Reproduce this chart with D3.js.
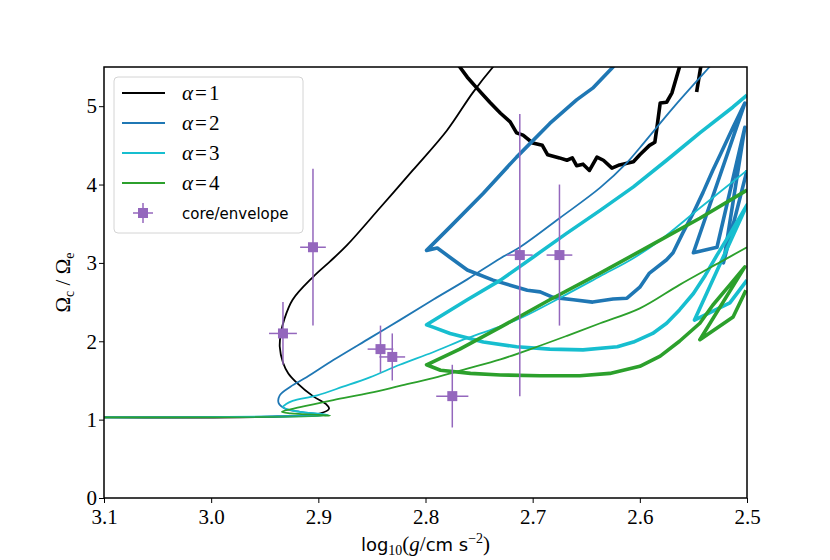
<!DOCTYPE html>
<html>
<head>
<meta charset="utf-8">
<script src="https://cdn.jsdelivr.net/npm/d3@7/dist/d3.min.js"></script>
<style>
  body { margin: 0; background: #fff; }
  svg { display: block; }
</style>
</head>
<body>
<div id="chart"></div>
<script>
// tracks: [log g, Omega_c/Omega_e]
const alpha1Thin = [[3.10,1.03],[2.938,1.04],[2.898,1.08],[2.890,1.14],[2.893,1.20],[2.905,1.30],[2.920,1.47],[2.928,1.59],[2.933,1.73],[2.936,1.93],[2.935,2.10],[2.932,2.27],[2.924,2.53],[2.905,2.82],[2.889,3.02],[2.873,3.23],[2.842,3.71],[2.812,4.18],[2.780,4.69],[2.756,5.17],[2.737,5.50],[2.727,5.65]];
const alpha1Thick = [[2.775,5.62],[2.768,5.50],[2.761,5.37],[2.752,5.23],[2.740,5.05],[2.730,4.91],[2.721,4.80],[2.715,4.66],[2.709,4.63],[2.700,4.53],[2.691,4.50],[2.686,4.38],[2.675,4.34],[2.668,4.31],[2.663,4.34],[2.659,4.24],[2.653,4.26],[2.647,4.18],[2.640,4.35],[2.634,4.31],[2.626,4.21],[2.619,4.25],[2.606,4.29],[2.600,4.38],[2.591,4.50],[2.586,4.54],[2.584,4.73],[2.581,5.04],[2.575,5.05],[2.570,5.17],[2.563,5.50],[2.560,5.62]];
const alpha1ThickEnd = [[2.542,5.60],[2.547,5.18]];

const alpha2Thin = [[3.10,1.03],[2.938,1.04],[2.894,1.06],[2.917,1.10],[2.931,1.14],[2.937,1.21],[2.936,1.31],[2.926,1.42],[2.911,1.54],[2.886,1.76],[2.852,2.04],[2.824,2.27],[2.793,2.53],[2.761,2.79],[2.730,3.06],[2.712,3.20],[2.675,3.57],[2.637,3.96],[2.612,4.28],[2.600,4.47],[2.567,5.01],[2.535,5.50],[2.525,5.65]];
const alpha2Thick = [[2.618,5.62],[2.625,5.50],[2.644,5.23],[2.659,5.08],[2.684,4.78],[2.715,4.35],[2.746,3.89],[2.777,3.46],[2.799,3.16],[2.789,3.19],[2.777,3.07],[2.761,2.91],[2.737,2.78],[2.705,2.65],[2.693,2.63],[2.681,2.56],[2.662,2.53],[2.644,2.50],[2.625,2.54],[2.612,2.55],[2.600,2.69],[2.591,2.87],[2.575,3.04],[2.569,3.13],[2.560,3.38],[2.550,3.64],[2.541,3.90],[2.532,4.18],[2.525,4.38],[2.513,4.73],[2.502,5.04],[2.550,3.13],[2.528,3.20],[2.502,4.73],[2.522,3.00],[2.500,4.18]];

const alpha3Thin = [[3.10,1.03],[2.938,1.04],[2.891,1.06],[2.922,1.11],[2.933,1.16],[2.930,1.20],[2.924,1.24],[2.901,1.31],[2.877,1.42],[2.852,1.54],[2.824,1.70],[2.793,1.86],[2.761,2.04],[2.730,2.19],[2.709,2.31],[2.675,2.55],[2.637,2.83],[2.606,3.06],[2.581,3.29],[2.544,3.70],[2.500,4.18]];
const alpha3Thick = [[2.500,5.14],[2.513,4.99],[2.544,4.66],[2.575,4.31],[2.606,3.97],[2.637,3.67],[2.668,3.38],[2.700,3.07],[2.730,2.78],[2.761,2.53],[2.799,2.21],[2.793,2.18],[2.777,2.10],[2.746,1.99],[2.715,1.93],[2.684,1.90],[2.653,1.89],[2.621,1.93],[2.606,1.99],[2.588,2.10],[2.575,2.23],[2.563,2.40],[2.550,2.61],[2.539,2.84],[2.528,3.10],[2.515,3.39],[2.500,3.74],[2.549,2.27],[2.516,2.49],[2.500,2.78]];

const alpha4Thin = [[3.10,1.03],[2.889,1.05],[2.926,1.08],[2.934,1.10],[2.917,1.16],[2.886,1.25],[2.852,1.34],[2.824,1.43],[2.793,1.53],[2.761,1.65],[2.730,1.77],[2.700,1.91],[2.668,2.07],[2.637,2.23],[2.600,2.42],[2.563,2.72],[2.525,3.01],[2.500,3.20]];
const alpha4Thick = [[2.500,3.93],[2.544,3.57],[2.581,3.29],[2.637,2.87],[2.684,2.53],[2.730,2.18],[2.768,1.90],[2.799,1.70],[2.786,1.63],[2.758,1.59],[2.730,1.57],[2.693,1.56],[2.656,1.56],[2.628,1.59],[2.600,1.68],[2.581,1.81],[2.563,2.00],[2.544,2.23],[2.532,2.46],[2.516,2.72],[2.502,2.95],[2.544,2.02],[2.513,2.31],[2.501,2.65]];

// core/envelope measurements
const obsLogg = [2.933, 2.905, 2.842, 2.831, 2.775, 2.712, 2.675];
const obsRatio = [2.10, 3.20, 1.90, 1.80, 1.30, 3.10, 3.10];
const obsLoggErr = [0.013, 0.012, 0.012, 0.012, 0.015, 0.012, 0.012];
const obsRatioErr = [0.40, 1.00, 0.30, 0.30, 0.40, 1.80, 0.90];

const xTicks = [3.1, 3.0, 2.9, 2.8, 2.7, 2.6, 2.5];
const yTicks = [0, 1, 2, 3, 4, 5];
const alphaLabels = ['1', '2', '3', '4'];

const colors = ['#000000', '#1f77b4', '#17becf', '#2ca02c'];
const obsColor = '#9467bd';

const width = 830, height = 560;
const margin = { left: 104, right: 83, top: 67, bottom: 62 };

const svg = d3.select('#chart').append('svg')
  .attr('width', width)
  .attr('height', height);

const x = d3.scaleLinear().domain([3.1, 2.5]).range([margin.left, width - margin.right]);
const y = d3.scaleLinear().domain([0, 5.5]).range([height - margin.bottom, margin.top]);

svg.append('clipPath').attr('id', 'plot-clip')
  .append('rect')
  .attr('x', x(3.1)).attr('y', y(5.5))
  .attr('width', x(2.5) - x(3.1)).attr('height', y(0) - y(5.5));

const plot = svg.append('g').attr('clip-path', 'url(#plot-clip)');

const smooth = d3.line().x(d => x(d[0])).y(d => y(d[1])).curve(d3.curveCatmullRom.alpha(0.5));
const jagged = d3.line().x(d => x(d[0])).y(d => y(d[1]));

const tracks = [
  [alpha1Thin, alpha1Thick, alpha1ThickEnd],
  [alpha2Thin, alpha2Thick],
  [alpha3Thin, alpha3Thick],
  [alpha4Thin, alpha4Thick]
];

tracks.forEach((set, i) => {
  set.forEach((pts, j) => {
    plot.append('path')
      .attr('d', j === 0 ? smooth(pts) : jagged(pts))
      .attr('fill', 'none')
      .attr('stroke', colors[i])
      .attr('stroke-width', j === 0 ? 1.8 : 3.6)
      .attr('stroke-linejoin', 'round')
      .attr('stroke-linecap', 'butt');
  });
});

// error bars
const obs = obsLogg.map((v, i) => ({ x: v, y: obsRatio[i], ex: obsLoggErr[i], ey: obsRatioErr[i] }));
const eb = plot.selectAll('g.obs').data(obs).enter().append('g').attr('class', 'obs');
eb.append('line')
  .attr('x1', d => x(d.x)).attr('x2', d => x(d.x))
  .attr('y1', d => y(d.y - d.ey)).attr('y2', d => y(d.y + d.ey))
  .attr('stroke', obsColor).attr('stroke-width', 1.5);
eb.append('line')
  .attr('x1', d => x(d.x - d.ex)).attr('x2', d => x(d.x + d.ex))
  .attr('y1', d => y(d.y)).attr('y2', d => y(d.y))
  .attr('stroke', obsColor).attr('stroke-width', 1.5);
eb.append('rect')
  .attr('x', d => x(d.x) - 5).attr('y', d => y(d.y) - 5)
  .attr('width', 10).attr('height', 10)
  .attr('fill', obsColor);

// axes
const serif = '"Liberation Serif", "DejaVu Serif", serif';
const sans = '"DejaVu Sans", "Liberation Sans", sans-serif';

const xAxis = svg.append('g')
  .attr('transform', `translate(0,${y(0)})`)
  .call(d3.axisBottom(x).tickValues(xTicks).tickFormat(d3.format('.1f')).tickSize(5).tickSizeOuter(0));
const yAxis = svg.append('g')
  .attr('transform', `translate(${x(3.1)},0)`)
  .call(d3.axisLeft(y).tickValues(yTicks).tickFormat(d3.format('d')).tickSize(5).tickSizeOuter(0));

[xAxis, yAxis].forEach(a => {
  a.select('.domain').remove();
  a.selectAll('.tick line').attr('stroke', '#000').attr('stroke-width', 1);
  a.selectAll('.tick text').attr('font-family', serif).attr('font-size', 21).attr('fill', '#000');
});
xAxis.selectAll('.tick text').attr('dy', '0.95em').attr('y', 6);
yAxis.selectAll('.tick text').attr('x', -7).attr('dy', '0.32em');

svg.append('rect')
  .attr('x', x(3.1)).attr('y', y(5.5))
  .attr('width', x(2.5) - x(3.1)).attr('height', y(0) - y(5.5))
  .attr('fill', 'none').attr('stroke', '#000').attr('stroke-width', 1.5);

// axis labels
const xl = svg.append('text')
  .attr('x', (x(3.1) + x(2.5)) / 2).attr('y', 551)
  .attr('text-anchor', 'middle').attr('font-size', 21).attr('fill', '#000');
xl.append('tspan').attr('font-family', sans).attr('font-size', 18).text('log');
xl.append('tspan').attr('font-family', serif).attr('font-size', 14).attr('dy', 4).text('10');
xl.append('tspan').attr('font-family', serif).attr('dy', -4).text('(');
xl.append('tspan').attr('font-family', serif).attr('font-style', 'italic').text('g');
xl.append('tspan').attr('font-family', serif).text('/');
xl.append('tspan').attr('font-family', sans).attr('font-size', 18).text('cm s');
xl.append('tspan').attr('font-family', serif).attr('font-size', 14).attr('dy', -8).text('\u22122');
xl.append('tspan').attr('font-family', serif).attr('dy', 8).text(')');

const yl = svg.append('text')
  .attr('transform', `translate(70,${(y(0) + y(5.5)) / 2}) rotate(-90)`)
  .attr('text-anchor', 'middle').attr('font-family', serif).attr('font-size', 21).attr('fill', '#000');
yl.append('tspan').text('\u03A9');
yl.append('tspan').attr('font-size', 14).attr('dy', 4).text('c');
yl.append('tspan').attr('dy', -4).text(' / \u03A9');
yl.append('tspan').attr('font-size', 14).attr('dy', 4).text('e');

// legend
const lg = svg.append('g').attr('transform', 'translate(114,77)');
lg.append('rect')
  .attr('width', 189).attr('height', 156).attr('rx', 4)
  .attr('fill', '#fff').attr('fill-opacity', 0.8)
  .attr('stroke', '#d4d4d4').attr('stroke-width', 1);

alphaLabels.forEach((lab, i) => {
  const ry = 16 + i * 30;
  lg.append('line')
    .attr('x1', 8).attr('x2', 51).attr('y1', ry).attr('y2', ry)
    .attr('stroke', colors[i]).attr('stroke-width', 2.2);
  const t = lg.append('text')
    .attr('x', 68).attr('y', ry + 7)
    .attr('font-family', serif).attr('font-size', 21).attr('fill', '#000');
  t.append('tspan').attr('font-style', 'italic').text('\u03B1');
  t.append('tspan').attr('dx', 2).text('=');
  t.append('tspan').attr('dx', 2).text(lab);
});

const oy = 16 + 4 * 30;
lg.append('line').attr('x1', 19).attr('x2', 39).attr('y1', oy).attr('y2', oy)
  .attr('stroke', obsColor).attr('stroke-width', 1.5);
lg.append('line').attr('x1', 29).attr('x2', 29).attr('y1', oy - 10).attr('y2', oy + 10)
  .attr('stroke', obsColor).attr('stroke-width', 1.5);
lg.append('rect').attr('x', 24).attr('y', oy - 5).attr('width', 10).attr('height', 10)
  .attr('fill', obsColor);
lg.append('text')
  .attr('x', 68).attr('y', oy + 6)
  .attr('font-family', sans).attr('font-size', 15).attr('fill', '#000')
  .text('core/envelope');
</script>
</body>
</html>
